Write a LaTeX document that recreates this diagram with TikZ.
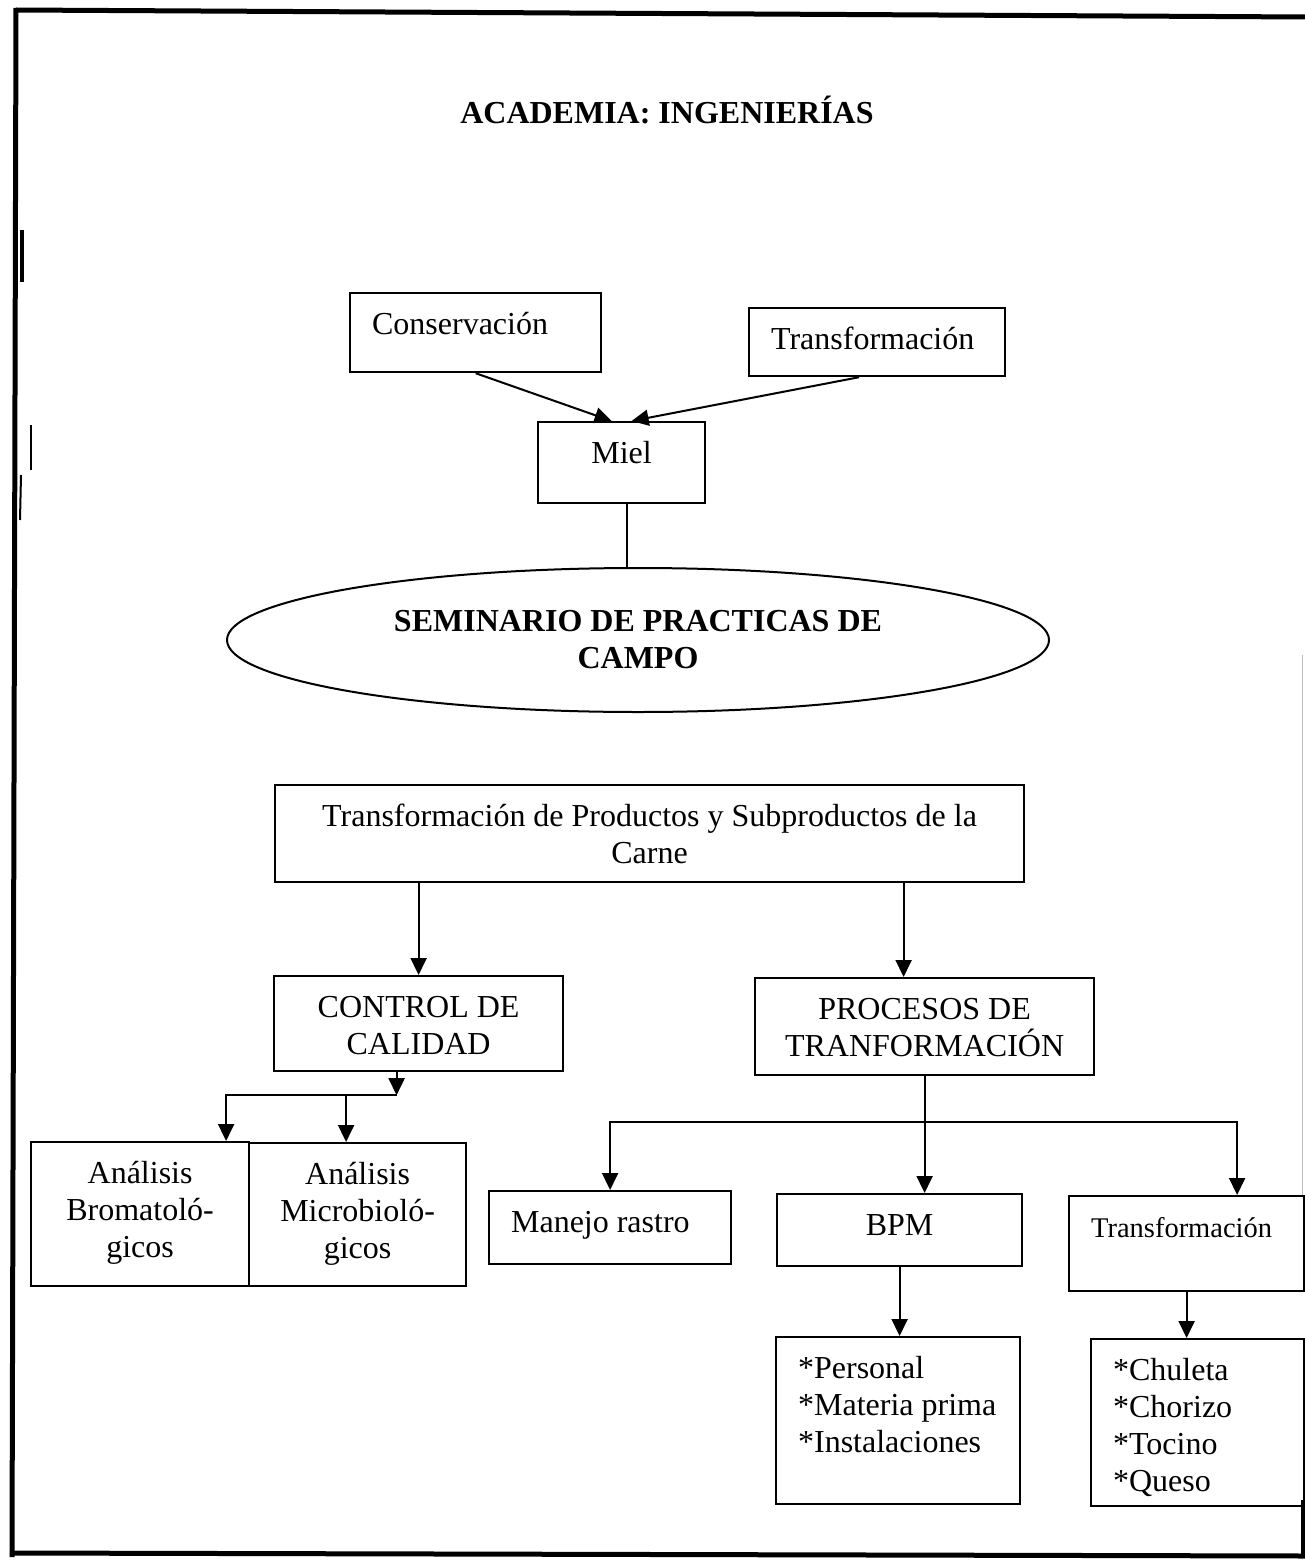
\documentclass[tikz,border=0pt]{standalone}
\usepackage{fontspec}
\setmainfont{Liberation Serif}
\usetikzlibrary{arrows.meta,shapes.geometric}
\newcommand{\ctext}[3]{\parbox[c][#2][t]{#1}{\centering\rule{0pt}{41pt}#3}}
\newcommand{\ltext}[3]{\parbox[c][#2][t]{#1}{\raggedright\leftskip=22pt\rule{0pt}{41pt}#3}}
\tikzset{
  bx/.style={draw, rectangle, line width=2.2pt, inner sep=0pt, anchor=north west},
  arr/.style={line width=2pt, -{Triangle[length=17pt,width=16pt]}},
  ln/.style={line width=2pt},
  frame/.style={line width=5pt},
}
\begin{document}
\begin{tikzpicture}[x=1pt,y=-1pt,font=\fontsize{32pt}{37pt}\selectfont]
\useasboundingbox (0,0) rectangle (1305,1560);
% page frame
\draw[frame] (16,10) -- (1307,17);
\draw[frame] (16,8) -- (12,1557);
\draw[frame] (10,1553) -- (1307,1556);
\draw[frame] (1303,1500) -- (1303,1557);
\draw[line width=1pt, black!25] (1302,655) -- (1302,1195);
% scan marks
\draw[line width=4pt] (22,230) -- (22,282);
\draw[line width=2pt] (31,425) -- (31,470);
\draw[line width=2pt] (21,475) -- (20,520);

\node[font=\fontsize{32pt}{37pt}\selectfont\bfseries] (title) at (667,110) {ACADEMIA: INGENIERÍAS};

\node[bx] (cons) at (349,292) {\ltext{251pt}{79pt}{Conservación}};
\node[bx] (transtop) at (748,307) {\ltext{256pt}{68pt}{Transformación}};
\node[bx] (miel) at (537,421) {\ctext{167pt}{81pt}{Miel}};
\node[draw, ellipse, line width=2pt, minimum width=822pt, minimum height=144pt,
      align=center, font=\fontsize{32pt}{37pt}\selectfont\bfseries] (sem) at (638,640)
      {SEMINARIO DE PRACTICAS DE\\CAMPO};

\node[bx] (big) at (274,784) {\ctext{749pt}{97pt}{Transformación de Productos y Subproductos de la\\Carne}};
\node[bx] (ctrl) at (273,975) {\ctext{289pt}{95pt}{CONTROL DE\\CALIDAD}};
\node[bx] (proc) at (754,977) {\ctext{339pt}{97pt}{PROCESOS DE\\TRANFORMACIÓN}};
\node[bx] (brom) at (30,1141) {\ctext{218pt}{144pt}{Análisis\\Bromatoló-\\gicos}};
\node[bx] (micro) at (248,1142) {\ctext{217pt}{143pt}{Análisis\\Microbioló-\\gicos}};
\node[bx] (manejo) at (488,1190) {\ltext{242pt}{73pt}{Manejo rastro}};
\node[bx] (bpm) at (776,1193) {\ctext{245pt}{72pt}{BPM}};
\node[bx] (trlow) at (1068,1195) {\ltext{235pt}{95pt}{{\fontsize{28.5pt}{34pt}\selectfont Transformación}}};
\node[bx] (pers) at (775,1336) {\ltext{244pt}{167pt}{*Personal\\{}*Materia prima\\{}*Instalaciones}};
\node[bx] (chul) at (1090,1338) {\ltext{213pt}{167pt}{*Chuleta\\{}*Chorizo\\{}*Tocino\\{}*Queso}};

% top connectors
\draw[arr] (cons.south) -- ([xshift=-10pt]miel.north);
\draw[arr] ([xshift=-18pt]transtop.south) -- ([xshift=10pt]miel.north);
\draw[ln] ([xshift=5pt]miel.south) -- ([xshift=5pt]miel.south |- sem.north);

% lower connectors
\draw[arr] (ctrl.north |- big.south) -- (ctrl.north);
\draw[arr] ([xshift=-21pt]proc.north |- big.south) -- ([xshift=-21pt]proc.north);

\coordinate (cj) at ([xshift=-22pt,yshift=-23pt]ctrl.south);
\draw[arr] ([xshift=-22pt]ctrl.south) -- (cj);
\draw[arr] (cj) -| ([xshift=86pt]brom.north);
\draw[arr] ([xshift=-11.5pt]micro.north |- cj) -- ([xshift=-11.5pt]micro.north);

\coordinate (pj) at ([yshift=-46pt]proc.south);
\draw[ln] (proc.south) -- (pj);
\draw[arr] (pj) -| (manejo.north);
\draw[arr] (pj) -| ([xshift=50.5pt]trlow.north);
\draw[arr] (pj) -- (pj |- bpm.north);

\draw[arr] (bpm.south) -- (bpm.south |- pers.north);
\draw[arr] (trlow.south) -- (trlow.south |- chul.north);
\end{tikzpicture}
\end{document}
